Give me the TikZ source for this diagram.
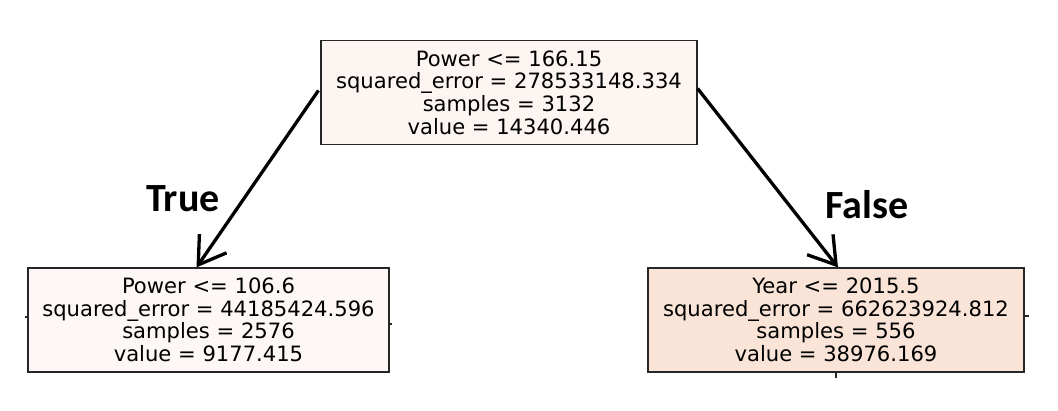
\documentclass[tikz,border=0pt]{standalone}
\usepackage{fontspec}
\setmainfont{DejaVu Sans}
\newfontfamily\labelfont{Carlito}
\usetikzlibrary{arrows.meta}
\definecolor{rootfill}{RGB}{253,245,242}
\definecolor{leftfill}{RGB}{253,248,245}
\definecolor{rightfill}{RGB}{249,228,215}
\begin{document}
\begin{tikzpicture}[x=1pt,y=-1pt,
  treenode/.style={draw=black!85,line width=1.2pt,rectangle,minimum height=104pt,
    inner sep=0pt,align=center,font=\fontsize{21.1}{22.6}\selectfont},
  edgearrow/.style={line width=3.3pt,-{Straight Barb[length=26pt,width=33pt,line width=3.3pt]}},
  stub/.style={line width=1.2pt,black!85},
  edgelabel/.style={font=\labelfont\bfseries\fontsize{40}{41}\selectfont}]
\useasboundingbox (0,0) rectangle (1058,410);
\node[treenode,fill=rootfill,minimum width=376pt] (root) at (509,92.5)
  {Power <= 166.15\\squared\_error = 278533148.334\\samples = 3132\\value = 14340.446};
\node[treenode,fill=leftfill,minimum width=361pt] (left) at (208.5,320)
  {Power <= 106.6\\squared\_error = 44185424.596\\samples = 2576\\value = 9177.415};
\node[treenode,fill=rightfill,minimum width=376pt] (right) at (836,320)
  {Year <= 2015.5\\squared\_error = 662623924.812\\samples = 556\\value = 38976.169};
\draw[edgearrow] ([xshift=-2pt,yshift=2pt]root.west) -- ([xshift=-12pt]left.north);
\draw[edgearrow] ([yshift=4pt]root.east) -- ([xshift=2pt]right.north);
\node[edgelabel] (truelab) at (183,199) {True};
\node[edgelabel] (falselab) at (867,205) {False};
\coordinate (ls1) at ([yshift=-4pt]left.east);
\coordinate (ls2) at ([yshift=3pt]left.west);
\coordinate (rs1) at ([yshift=4pt]right.east);
\coordinate (rs2) at (right.south);
\draw[stub] (ls1) -- ++(2,0);
\draw[stub] (ls2) -- ++(-2,0);
\draw[stub] (rs1) -- ++(4,0);
\draw[stub] (rs2) -- ++(0,5);
\end{tikzpicture}
\end{document}
